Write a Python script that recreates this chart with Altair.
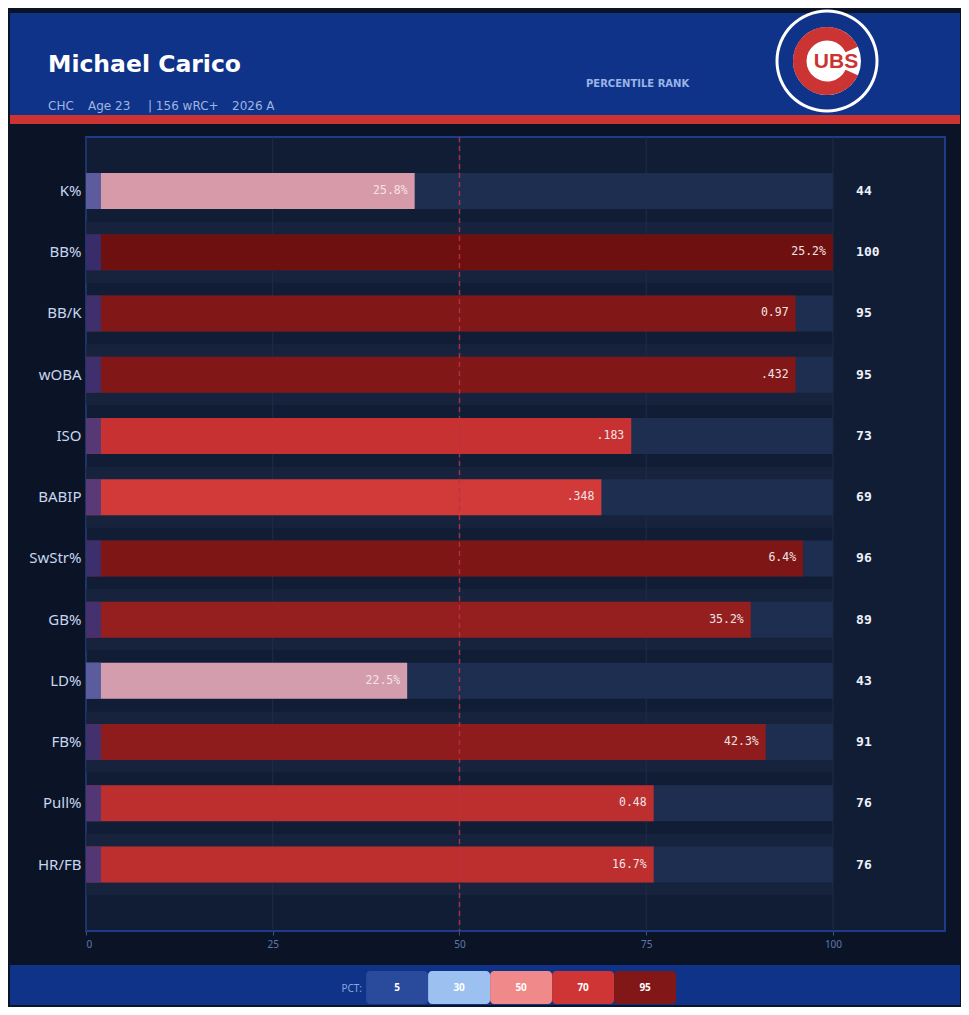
import math
import altair as alt
import pandas as pd

# ---------------- data ----------------
metrics = ["K%", "BB%", "BB/K", "wOBA", "ISO", "BABIP", "SwStr%", "GB%", "LD%", "FB%", "Pull%", "HR/FB"]
stat_values = ["25.8%", "25.2%", "0.97", ".432", ".183", ".348", "6.4%", "35.2%", "22.5%", "42.3%", "0.48", "16.7%"]
percentiles = [44, 100, 95, 95, 73, 69, 96, 89, 43, 91, 76, 76]
legend_pcts = [5, 30, 50, 70, 95]
x_ticks = [0, 25, 50, 75, 100]

player_name = "Michael Carico"
info_parts = ["CHC", "Age 23", "| 156 wRC+", "2026 A"]
header_label = "PERCENTILE RANK"
logo_text = "UBS"
legend_title = "PCT:"

df = pd.DataFrame({"metric": metrics, "value": stat_values, "pct": percentiles,
                   "row": list(range(len(metrics)))})
leg = pd.DataFrame({"p": legend_pcts, "i": list(range(len(legend_pcts)))})
grid_df = pd.DataFrame({"t": x_ticks})
one = pd.DataFrame({"a": [0]})

# ---------------- styles ----------------
BG = "#0b1427"
BLUE = "#0f3389"
RED = "#cc3433"

cscale = alt.Scale(domain=[5, 30, 50, 70, 95, 100],
                   range=["#2a4a9c", "#9cc0f0", "#f08a8a", "#d03535", "#821717", "#6e1010"],
                   interpolate="rgb")
xscale = alt.Scale(domain=[0, 115], nice=False, zero=False)
xaxis = alt.Axis(values=x_ticks, grid=False, domain=False, labelColor="#5d7aa8",
                 labelFont="Noto Sans", labelFontSize=10, tickColor="#3a5488",
                 tickSize=4, labelPadding=4, title=None)
yscale = alt.Scale(paddingInner=0, paddingOuter=0.4835, align=0.395)
yaxis = alt.Axis(domain=False, ticks=False, grid=False, labelColor="#c8d6ee",
                 labelFont="Noto Sans", labelFontSize=15, labelPadding=5, title=None)
Y = alt.Y("metric:N", sort=metrics, scale=yscale, axis=yaxis, title=None)


def XF(field):
    return alt.X(field, type="quantitative", scale=xscale, axis=xaxis, title=None)


base = alt.Chart(df).transform_calculate(zero="0", full="100", seg="2", pcol="103.1")

bands = base.transform_filter("datum.row % 2 == 1").mark_bar(size=61, color="#17233c").encode(
    y=Y, x=XF("zero"), x2="full:Q")
grid = alt.Chart(grid_df).mark_rule(color="#1f2d4a", strokeWidth=1).encode(x=XF("t"))
track = base.mark_bar(size=36, color="#1d2e50").encode(y=Y, x=XF("zero"), x2="full:Q")
bars = base.mark_bar(size=36).encode(
    y=Y, x=XF("zero"), x2="pct:Q",
    color=alt.Color("pct:Q", scale=cscale, legend=None))
overlay = base.mark_bar(size=36, color="#1e3c96", opacity=0.67).encode(
    y=Y, x=XF("zero"), x2="seg:Q")
val_text = base.mark_text(align="right", baseline="middle", dx=-7, font="DejaVu Sans Mono",
                          fontSize=11.5, color="#f2e4e6").encode(
    y=Y, x=XF("pct"), text="value:N")
pct_text = base.mark_text(align="left", baseline="middle", font="DejaVu Sans Mono",
                          fontWeight="bold", fontSize=13, color="#eef2fb").encode(
    y=Y, x=XF("pcol"), text="pct:Q")
mid = alt.Chart(one).transform_calculate(m="50").mark_rule(
    color="#b8324a", strokeDash=[5, 4], strokeWidth=1.5, opacity=0.85).encode(x=XF("m"))

# ---------------- legend (footer), placed in x units of the chart ----------------
leg_base = alt.Chart(leg).transform_calculate(
    x0="37.5 + datum.i * 8.3", x1="37.5 + (datum.i + 1) * 8.3", xc="37.5 + (datum.i + 0.5) * 8.3")
legend_boxes = leg_base.mark_rect(cornerRadius=4).encode(
    x=XF("x0"), x2="x1:Q",
    y=alt.value(834), y2=alt.value(867),
    color=alt.Color("p:Q", scale=cscale, legend=None))
legend_text = leg_base.mark_text(
    color="white", fontWeight="bold", fontSize=10, font="Noto Sans", baseline="middle").encode(
    x=XF("xc"), y=alt.value(851), text="p:Q")


# ---------------- header / footer decorations ----------------
def rect(x, x2, y, y2, color):
    return alt.Chart(one).mark_rect(color=color).encode(
        x=alt.value(x), x2=alt.value(x2), y=alt.value(y), y2=alt.value(y2))


def label(text, x, y, size, color, weight="normal", font="DejaVu Sans", align="left",
          baseline="alphabetic"):
    return alt.Chart(one).mark_text(text=text, fontSize=size, color=color, fontWeight=weight,
                                    font=font, align=align, baseline=baseline).encode(
        x=alt.value(x), y=alt.value(y))


def disc(r, color, r2=0, t0=0.0, t1=2 * math.pi):
    return alt.Chart(one).mark_arc(radius=r, radius2=r2, theta=t0, theta2=t1, color=color).encode(
        x=alt.value(741), y=alt.value(-76))


decos = [
    rect(-76, 874, -124, -22, BLUE),
    rect(-76, 874, -22, -13, RED),
    label(player_name, -38, -65, 23.5, "white", "bold"),
    label(info_parts[0], -38, -27, 12, "#9fb5e0"),
    label(info_parts[1], 2, -27, 12, "#9fb5e0"),
    label(info_parts[2], 62, -27, 12, "#9fb5e0"),
    label(info_parts[3], 146, -27, 12, "#9fb5e0"),
    label(header_label, 500, -50, 10, "#9ab4e6", "bold"),
    disc(51.5, "white"),
    disc(48.5, BLUE),
    disc(34, "white"),
    disc(34, RED, 20.5, math.radians(115), math.radians(425)),
    label(logo_text, 750, -75.5, 21, RED, "bold", "Liberation Sans", "center", "middle"),
    rect(-76, 874, 828, 868, BLUE),
    label(legend_title, 276, 852, 10, "#8aa6dc", "normal", "Noto Sans", "right", "middle"),
]

chart = alt.layer(
    bands, grid, track, bars, overlay, val_text, pct_text, mid,
    *decos, legend_boxes, legend_text
).properties(
    width=859, height=794,
    padding={"left": 78, "top": 129, "right": 16, "bottom": 76},
    autosize=alt.AutoSizeParams(type="none"),
    background=BG,
).configure_view(fill="#111d35", stroke="#1e3a8a", strokeWidth=2)

chart.save("out.html", embed_options={"renderer": "svg", "actions": False})
